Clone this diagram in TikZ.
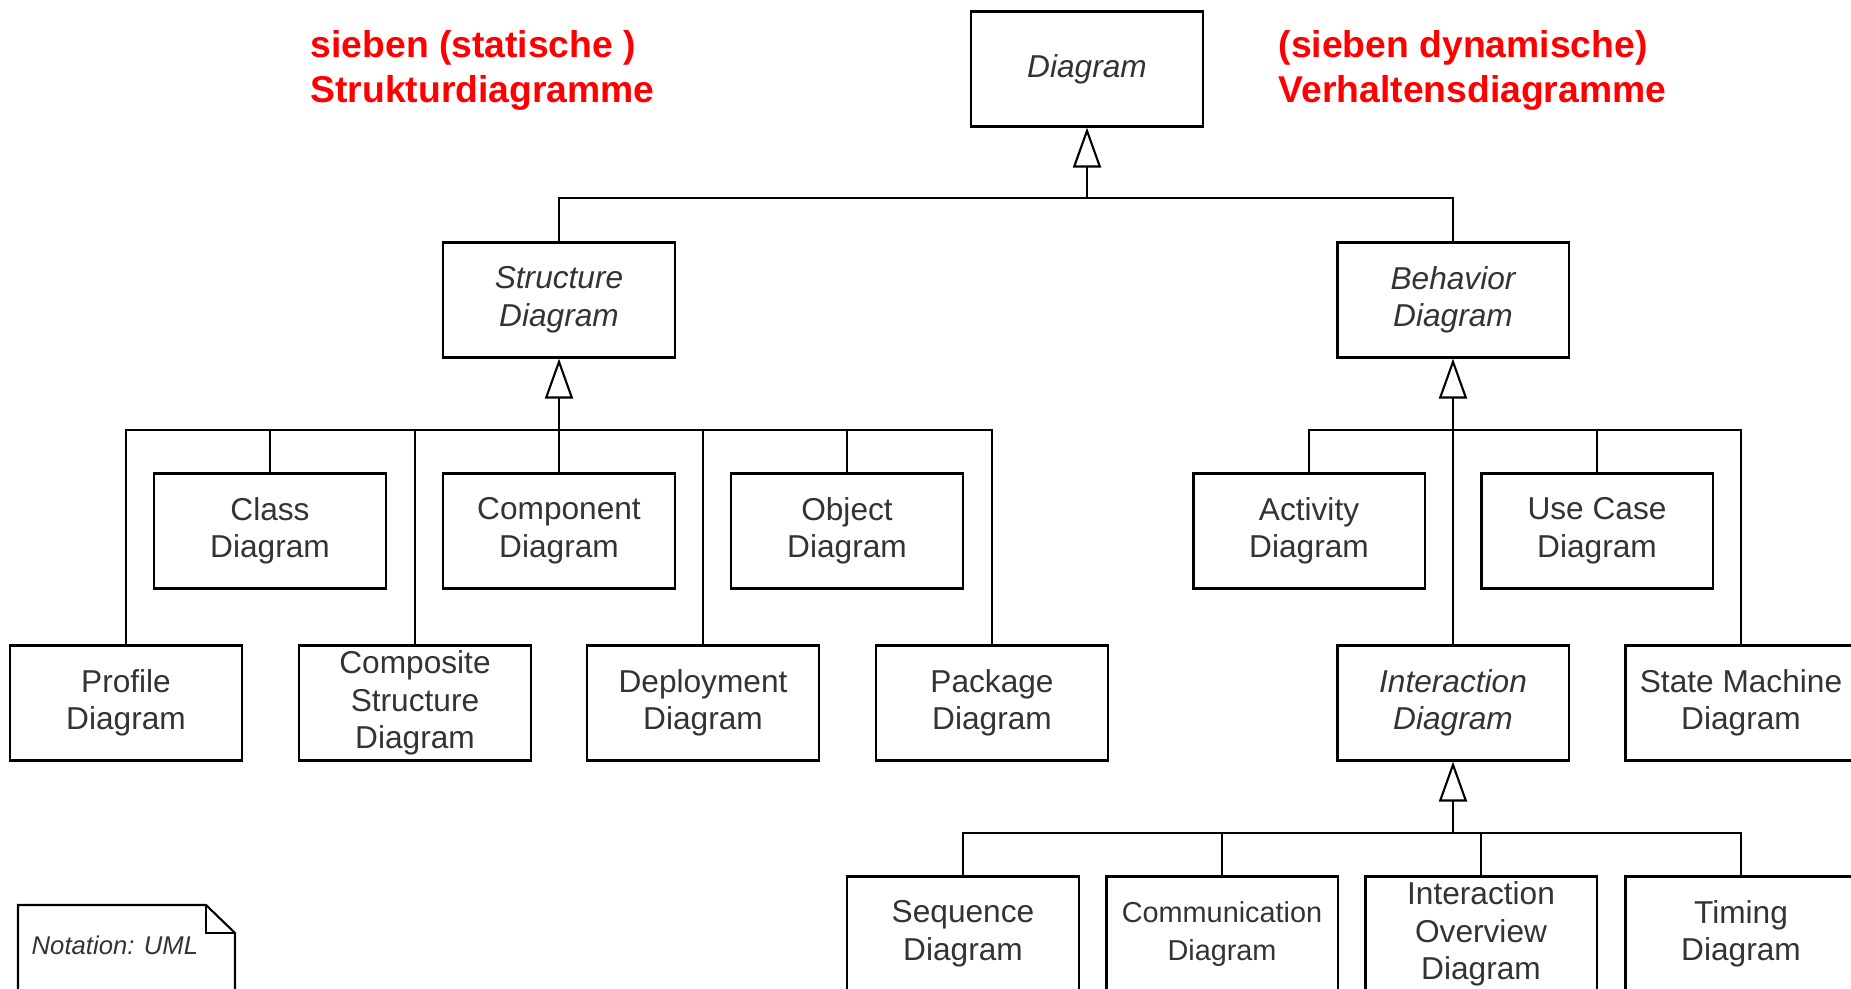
\documentclass[tikz,border=0pt]{standalone}
\usepackage{fontspec}
\setmainfont{Liberation Sans}
\usetikzlibrary{arrows.meta}
\tikzset{>=latex}
\colorlet{boxtext}{black!80}
\tikzset{diagbox/.style = {shape=rectangle,draw,line width=0.6pt,minimum width=2.31cm,minimum height=1.15cm,inner sep=0pt,align=center,text=boxtext,font=\fontsize{9}{10.7}\selectfont}}
\tikzset{absbox/.style = {diagbox,font=\fontsize{9}{10.7}\selectfont\itshape}}
\tikzset{gen/.style = {line width=0.6pt,-{Triangle[open,length=0.4cm,width=0.28cm]}}}
\tikzset{link/.style = {line width=0.6pt}}
\tikzset{redlabel/.style = {anchor=west,align=left,inner sep=0pt,text=red,font=\fontsize{10.6}{12.8}\selectfont\bfseries}}

\begin{document}
\begin{tikzpicture}[x=0.01cm,y=-0.01cm]
                    \useasboundingbox (0,0) rectangle (1851,989);

                    \node[redlabel] (statlabel) at (310,70) {sieben (statische )\\Strukturdiagramme};
                    \node[redlabel] (dynlabel) at (1278,70) {(sieben dynamische)\\Verhaltensdiagramme};

                    \node[absbox] (Diag) at (1087,69) {Diagram};
                    \node[absbox] (Struct) at (559,300) {Structure\\Diagram};
                    \node[absbox] (Behav) at (1453,300) {Behavior\\Diagram};

                    \node[diagbox] (Class) at (270,531) {Class\\Diagram};
                    \node[diagbox] (Compo) at (559,531) {Component\\Diagram};
                    \node[diagbox] (Object) at (847,531) {Object\\Diagram};
                    \node[diagbox] (Profile) at (126,703) {Profile\\Diagram};
                    \node[diagbox] (CompStr) at (415,703) {Composite\\Structure\\Diagram};
                    \node[diagbox] (Deploy) at (703,703) {Deployment\\Diagram};
                    \node[diagbox] (Package) at (992,703) {Package\\Diagram};

                    \node[diagbox] (Activity) at (1309,531) {Activity\\Diagram};
                    \node[diagbox] (UseCase) at (1597,531) {Use Case\\Diagram};
                    \node[absbox] (Inter) at (1453,703) {Interaction\\Diagram};
                    \node[diagbox] (StateM) at (1741,703) {State Machine\\Diagram};

                    \node[diagbox] (Seq) at (963,934) {Sequence\\Diagram};
                    \node[diagbox,font=\fontsize{8.2}{10.7}\selectfont] (Comm) at (1222,934) {Communication\\Diagram};
                    \node[diagbox] (InterOv) at (1481,934) {Interaction\\Overview\\Diagram};
                    \node[diagbox] (Timing) at (1741,934) {Timing\\Diagram};

                    % junctions of the generalization trees
                    \coordinate (top) at (1087,198);
                    \coordinate (left) at (559,430);
                    \coordinate (right) at (1453,430);
                    \coordinate (bottom) at (1453,833);

                    \draw[gen] (top) -- (Diag.south);
                    \draw[link] (Struct.north) |- (top) -| (Behav.north);

                    \draw[gen] (left) -- (Struct.south);
                    \draw[link] (Class.north) |- (left);
                    \draw[link] (Compo.north) -- (left);
                    \draw[link] (Object.north) |- (left);
                    \draw[link] (Profile.north) |- (left);
                    \draw[link] (CompStr.north) |- (left);
                    \draw[link] (Deploy.north) |- (left);
                    \draw[link] (Package.north) |- (left);

                    \draw[gen] (right) -- (Behav.south);
                    \draw[link] (Activity.north) |- (right);
                    \draw[link] (UseCase.north) |- (right);
                    \draw[link] (Inter.north) -- (right);
                    \draw[link] (StateM.north) |- (right);

                    \draw[gen] (bottom) -- (Inter.south);
                    \draw[link] (Seq.north) |- (bottom);
                    \draw[link] (Comm.north) |- (bottom);
                    \draw[link] (InterOv.north) |- (bottom);
                    \draw[link] (Timing.north) |- (bottom);

                    % note
                    \draw[link] (18,1000) -- (18,905) -- (206,905) -- (235,933) -- (235,1000);
                    \draw[link] (206,905) -- (206,933) -- (235,933);
                    \node[anchor=west,inner sep=0pt,text=boxtext,font=\fontsize{7.3}{9}\selectfont\itshape] (note) at (31,945) {Notation: UML};
                \end{tikzpicture}
\end{document}
